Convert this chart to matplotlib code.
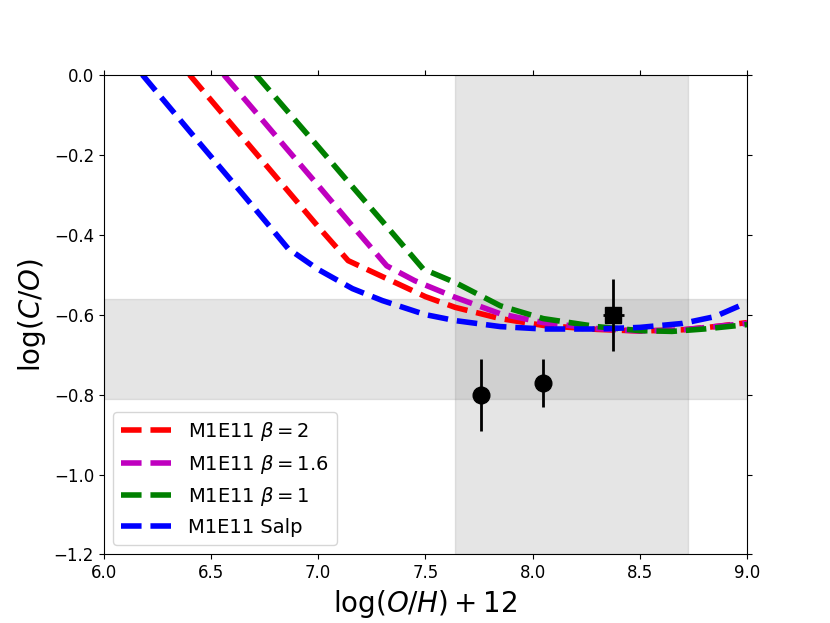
import matplotlib
matplotlib.use("Agg")
import matplotlib.pyplot as plt
import numpy as np

# model tracks
salp_x = [6.18, 6.30, 6.45, 6.60, 6.75, 6.86, 7.00, 7.16, 7.30, 7.50, 7.64, 7.85, 8.05, 8.30, 8.50, 8.70, 8.85, 9.00]
salp_y = [0.00, -0.077, -0.173, -0.268, -0.364, -0.435, -0.487, -0.535, -0.565, -0.600, -0.615, -0.630, -0.636, -0.636, -0.632, -0.622, -0.605, -0.570]

b2_x = [6.40, 6.55, 6.70, 6.85, 7.00, 7.14, 7.30, 7.50, 7.64, 7.85, 8.05, 8.30, 8.50, 8.70, 8.85, 9.00]
b2_y = [0.00, -0.095, -0.190, -0.285, -0.380, -0.465, -0.505, -0.555, -0.582, -0.610, -0.627, -0.637, -0.641, -0.638, -0.630, -0.620]

b16_x = [6.56, 6.70, 6.85, 7.00, 7.15, 7.32, 7.45, 7.64, 7.85, 8.05, 8.30, 8.50, 8.70, 8.85, 9.00]
b16_y = [0.00, -0.088, -0.183, -0.277, -0.372, -0.478, -0.515, -0.557, -0.598, -0.620, -0.635, -0.641, -0.638, -0.630, -0.622]

b1_x = [6.71, 6.85, 7.00, 7.15, 7.30, 7.49, 7.64, 7.85, 8.05, 8.30, 8.50, 8.65, 8.80, 9.00]
b1_y = [0.00, -0.087, -0.180, -0.274, -0.367, -0.486, -0.520, -0.578, -0.610, -0.630, -0.640, -0.642, -0.636, -0.625]

# observed points
obs_x = [7.76, 8.05]
obs_y = [-0.80, -0.77]
obs_yerr = [0.09, 0.06]

sq_x = [8.377]
sq_y = [-0.60]
sq_xerr = [0.05]
sq_yerr = [0.09]

# shaded ranges
oh_range = (7.64, 8.725)
co_range = (-0.81, -0.56)


def main():
    fig, ax = plt.subplots(figsize=(8.3, 6.23), dpi=100)

    ax.axvspan(oh_range[0], oh_range[1], color="grey", alpha=0.2)
    ax.axhspan(co_range[0], co_range[1], color="grey", alpha=0.2)

    ax.plot(b2_x, b2_y, "r--", lw=4, label=r"M1E11 $\beta=2$")
    ax.plot(b16_x, b16_y, "m--", lw=4, label=r"M1E11 $\beta=1.6$")
    ax.plot(b1_x, b1_y, "g--", lw=4, label=r"M1E11 $\beta=1$")
    ax.plot(salp_x, salp_y, "b--", lw=4, label="M1E11 Salp")

    ax.errorbar(obs_x, obs_y, yerr=obs_yerr, fmt="ko", ms=12, elinewidth=2)
    ax.errorbar(sq_x, sq_y, xerr=sq_xerr, yerr=sq_yerr, fmt="ks", ms=12, elinewidth=2)

    ax.set_xlim(6.0, 9.0)
    ax.set_ylim(-1.2, 0.0)
    ax.tick_params(top=True, right=True, labelsize=12)
    ax.set_xlabel(r"$\log(O/H)+12$", fontsize=20)
    ax.set_ylabel(r"$\log(C/O)$", fontsize=20)
    ax.legend(loc="lower left", fontsize=14, handlelength=2.55, handletextpad=0.9)

    fig.savefig("out.png", dpi=100)
    plt.close(fig)


if __name__ == "__main__":
    main()
